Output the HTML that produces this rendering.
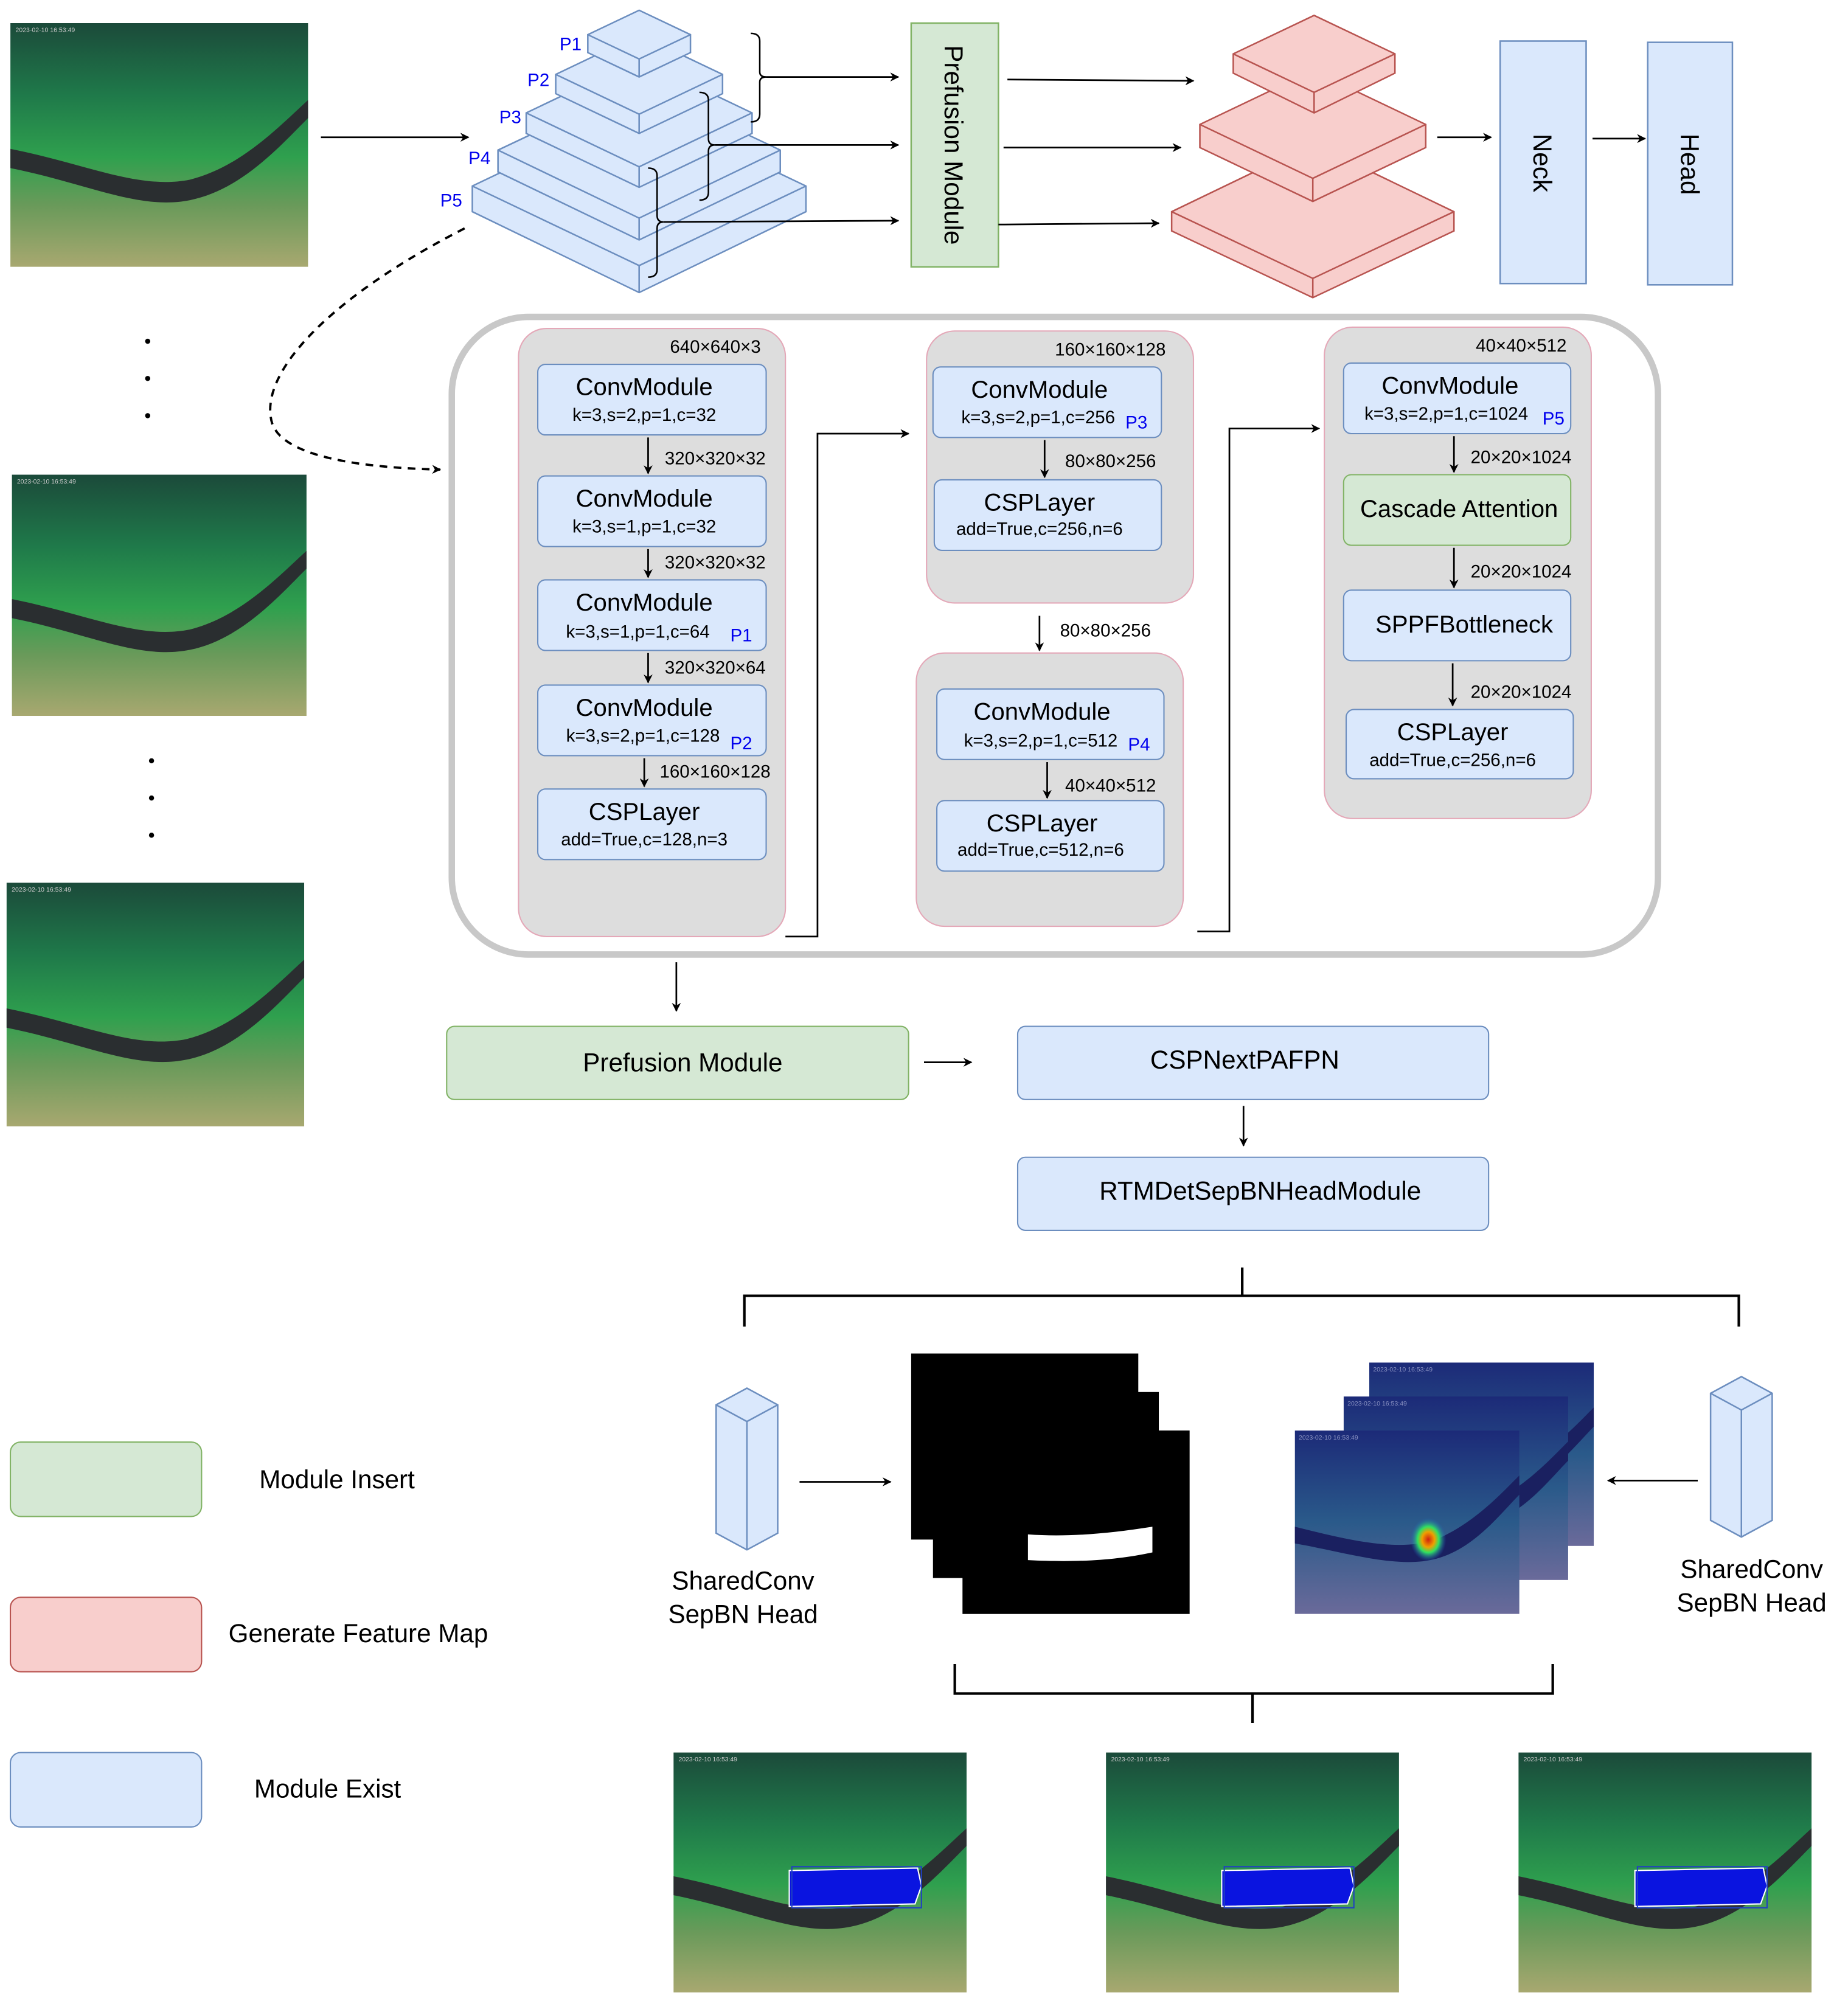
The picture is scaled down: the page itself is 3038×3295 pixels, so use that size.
<!DOCTYPE html>
<html><head><meta charset="utf-8"><style>
html,body{margin:0;padding:0;background:#fff}
svg{display:block}
text{font-family:"Liberation Sans",sans-serif}
</style></head><body>
<svg width="3038" height="3295" viewBox="0 0 1440 1562" xmlns="http://www.w3.org/2000/svg">
<defs>
<marker id="ah" viewBox="0 0 10 10" refX="9" refY="5" markerWidth="7" markerHeight="7" orient="auto" markerUnits="userSpaceOnUse"><path d="M0,0 L10,5 L0,10 L3,5z" fill="#000"/></marker>
<linearGradient id="pg" x1="0" y1="0" x2="0" y2="1">
<stop offset="0" stop-color="#1b4a3a"/><stop offset="0.3" stop-color="#1f7a4a"/><stop offset="0.55" stop-color="#2fa04e"/><stop offset="0.75" stop-color="#6a9a5a"/><stop offset="1" stop-color="#a8a870"/></linearGradient>
<linearGradient id="hg" x1="0" y1="0" x2="0" y2="1">
<stop offset="0" stop-color="#1c2a78"/><stop offset="0.5" stop-color="#2a5a8a"/><stop offset="1" stop-color="#6a6a9a"/></linearGradient>
<radialGradient id="blob"><stop offset="0" stop-color="#d02010"/><stop offset="0.35" stop-color="#f0a000"/><stop offset="0.6" stop-color="#30e060"/><stop offset="1" stop-color="#2060c0" stop-opacity="0"/></radialGradient>
<symbol id="photo" viewBox="0 0 232 190">
<rect width="232" height="190" fill="url(#pg)"/>
<path d="M0,98 C60,110 100,130 140,122 C180,112 210,80 232,60 L232,74 C210,96 180,130 140,138 C100,146 60,125 0,113z" fill="#2a2e30"/>
<text x="4" y="7" font-size="5" fill="#ccc">2023-02-10 16:53:49</text>
</symbol>
<symbol id="heat" viewBox="0 0 175 143">
<rect width="175" height="143" fill="url(#hg)"/>
<path d="M0,75 C40,85 80,95 110,85 C140,72 160,50 175,35 L175,50 C160,65 140,92 110,100 C80,108 40,95 0,88z" fill="#1a2060"/>
<text x="3" y="7" font-size="5" fill="#8890c0">2023-02-10 16:53:49</text>
</symbol>
</defs>
<rect width="1440" height="1562" fill="#fff"/>

<!-- left photos -->
<use href="#photo" x="8" y="18" width="232" height="190"/>
<use href="#photo" x="8" y="370" width="232" height="188"/>
<use href="#photo" x="5" y="688" width="232" height="190"/>
<g fill="#000"><circle cx="115" cy="266" r="2"/><circle cx="115" cy="295" r="2"/><circle cx="115" cy="324" r="2"/><circle cx="118" cy="593" r="2"/><circle cx="118" cy="622" r="2"/><circle cx="118" cy="651" r="2"/></g>
<line x1="250" y1="107" x2="365" y2="107" stroke="#000" stroke-width="1.3" marker-end="url(#ah)"/>

<!-- pyramid -->
<g fill="#dae8fc" stroke="#6c8ebf" stroke-width="1.2">
<path d="M368,145 L498,83 L628,145 L628,165 L498,228 L368,165z"/><path d="M368,145 L498,207 L628,145 M498,207 L498,228" fill="none"/>
<path d="M388,117 L498,65 L608,117 L608,134 L498,187 L388,134z"/><path d="M388,117 L498,170 L608,117 M498,170 L498,187" fill="none"/>
<path d="M410,88 L498,46 L586,88 L586,104 L498,146 L410,104z"/><path d="M410,88 L498,130 L586,88 M498,130 L498,146" fill="none"/>
<path d="M433,58 L498,27 L563,58 L563,73 L498,104 L433,73z"/><path d="M433,58 L498,89 L563,58 M498,89 L498,104" fill="none"/>
<path d="M458,27 L498,8 L538,27 L538,41 L498,60 L458,41z"/><path d="M458,27 L498,46 L538,27 M498,46 L498,60" fill="none"/>
</g>
<g fill="#0000ee" font-size="14"><text x="436" y="39">P1</text><text x="411" y="67">P2</text><text x="389" y="96">P3</text><text x="365" y="128">P4</text><text x="343" y="161">P5</text></g>
<g fill="none" stroke="#000" stroke-width="1.2">
<path d="M585,26 Q592,26 592,32 L592,56 Q592,60 597,60 Q592,60 592,64 L592,89 Q592,95 585,95"/>
<path d="M545,72 Q552,72 552,78 L552,108 Q552,113 557,113 Q552,113 552,118 L552,150 Q552,156 545,156"/>
<path d="M505,131 Q512,131 512,137 L512,168 Q512,173 517,173 Q512,173 512,178 L512,210 Q512,216 505,216"/>
</g>
<g stroke="#000" stroke-width="1.3" marker-end="url(#ah)">
<line x1="597" y1="60" x2="700" y2="60"/><line x1="557" y1="113" x2="700" y2="113"/><line x1="517" y1="173" x2="700" y2="172"/>
</g>
<rect x="710" y="18" width="68" height="190" fill="#d5e8d4" stroke="#82b366" stroke-width="1.2"/>
<text transform="translate(736,113) rotate(90)" text-anchor="middle" font-size="20" fill="#000">Prefusion Module</text>
<g stroke="#000" stroke-width="1.3" marker-end="url(#ah)">
<line x1="785" y1="62" x2="930" y2="63"/><line x1="782" y1="115" x2="920" y2="115"/><line x1="778" y1="175" x2="903" y2="174"/>
</g>
<!-- red slabs -->
<g fill="#f8cecc" stroke="#b85450" stroke-width="1.2">
<path d="M913,165 L1023,112 L1133,165 L1133,180 L1023,232 L913,180z"/><path d="M913,165 L1023,217 L1133,165 M1023,217 L1023,232" fill="none"/>
<path d="M935,97 L1023,55 L1111,97 L1111,115 L1023,157 L935,115z"/><path d="M935,97 L1023,139 L1111,97 M1023,139 L1023,157" fill="none"/>
<path d="M961,42 L1024,12 L1087,42 L1087,57 L1024,88 L961,57z"/><path d="M961,42 L1024,72 L1087,42 M1024,72 L1024,88" fill="none"/>
</g>
<line x1="1120" y1="107" x2="1162" y2="107" stroke="#000" stroke-width="1.3" marker-end="url(#ah)"/>
<rect x="1169" y="32" width="67" height="189" fill="#dae8fc" stroke="#6c8ebf" stroke-width="1.2"/>
<text transform="translate(1195,127) rotate(90)" text-anchor="middle" font-size="20">Neck</text>
<line x1="1241" y1="108" x2="1282" y2="108" stroke="#000" stroke-width="1.3" marker-end="url(#ah)"/>
<rect x="1284" y="33" width="66" height="189" fill="#dae8fc" stroke="#6c8ebf" stroke-width="1.2"/>
<text transform="translate(1310,128) rotate(90)" text-anchor="middle" font-size="20">Head</text>

<path d="M362,178 C260,230 200,290 212,330 C222,360 300,365 343,366" fill="none" stroke="#000" stroke-width="1.8" stroke-dasharray="6,5" marker-end="url(#ah)"/>

<!-- big container -->
<rect x="352" y="247" width="940" height="497" rx="60" fill="#fff" stroke="#c8c8c8" stroke-width="5"/>
<g fill="#dddddd" stroke="#e4a8b8" stroke-width="1">
<rect x="404" y="256" width="208" height="474" rx="22"/>
<rect x="722" y="258" width="208" height="212" rx="22"/>
<rect x="714" y="509" width="208" height="213" rx="22"/>
<rect x="1032" y="255" width="208" height="383" rx="22"/>
</g>
<g fill="#dae8fc" stroke="#6c8ebf" stroke-width="1">
<rect x="419" y="284" width="178" height="55" rx="6"/><rect x="419" y="371" width="178" height="55" rx="6"/>
<rect x="419" y="452" width="178" height="55" rx="6"/><rect x="419" y="534" width="178" height="55" rx="6"/>
<rect x="419" y="615" width="178" height="55" rx="6"/>
<rect x="727" y="286" width="178" height="55" rx="6"/><rect x="728" y="374" width="177" height="55" rx="6"/>
<rect x="730" y="537" width="177" height="55" rx="6"/><rect x="730" y="624" width="177" height="55" rx="6"/>
<rect x="1047" y="283" width="177" height="55" rx="6"/><rect x="1047" y="460" width="177" height="55" rx="6"/>
<rect x="1049" y="553" width="177" height="54" rx="6"/>
</g>
<rect x="1047" y="370" width="177" height="55" rx="6" fill="#d5e8d4" stroke="#82b366"/>
<g font-size="19" text-anchor="middle">
<text x="502" y="308">ConvModule</text><text x="502" y="395">ConvModule</text><text x="502" y="476">ConvModule</text><text x="502" y="558">ConvModule</text><text x="502" y="639">CSPLayer</text>
<text x="810" y="310">ConvModule</text><text x="810" y="398">CSPLayer</text>
<text x="812" y="561">ConvModule</text><text x="812" y="648">CSPLayer</text>
<text x="1130" y="307">ConvModule</text><text x="1137" y="403">Cascade Attention</text><text x="1141" y="493">SPPFBottleneck</text><text x="1132" y="577">CSPLayer</text>
</g>
<g font-size="14" text-anchor="middle">
<text x="502" y="328">k=3,s=2,p=1,c=32</text><text x="502" y="415">k=3,s=1,p=1,c=32</text><text x="497" y="497">k=3,s=1,p=1,c=64</text><text x="501" y="578">k=3,s=2,p=1,c=128</text><text x="502" y="659">add=True,c=128,n=3</text>
<text x="809" y="330">k=3,s=2,p=1,c=256</text><text x="810" y="417">add=True,c=256,n=6</text>
<text x="811" y="582">k=3,s=2,p=1,c=512</text><text x="811" y="667">add=True,c=512,n=6</text>
<text x="1127" y="327">k=3,s=2,p=1,c=1024</text><text x="1132" y="597">add=True,c=256,n=6</text>
</g>
<g font-size="14" fill="#0000ee"><text x="569" y="500">P1</text><text x="569" y="584">P2</text><text x="877" y="334">P3</text><text x="879" y="585">P4</text><text x="1202" y="331">P5</text></g>
<g font-size="14">
<text x="522" y="275">640×640×3</text><text x="518" y="362">320×320×32</text><text x="518" y="443">320×320×32</text><text x="518" y="525">320×320×64</text><text x="514" y="606">160×160×128</text>
<text x="822" y="277">160×160×128</text><text x="830" y="364">80×80×256</text><text x="826" y="496">80×80×256</text><text x="830" y="617">40×40×512</text>
<text x="1150" y="274">40×40×512</text><text x="1146" y="361">20×20×1024</text><text x="1146" y="450">20×20×1024</text><text x="1146" y="544">20×20×1024</text>
</g>
<g stroke="#000" stroke-width="1.3" marker-end="url(#ah)" fill="none">
<line x1="505" y1="341" x2="505" y2="369"/><line x1="505" y1="428" x2="505" y2="450"/><line x1="505" y1="509" x2="505" y2="532"/><line x1="502" y1="591" x2="502" y2="613"/>
<line x1="814" y1="343" x2="814" y2="372"/><line x1="810" y1="480" x2="810" y2="507"/><line x1="816" y1="594" x2="816" y2="622"/>
<line x1="1133" y1="340" x2="1133" y2="368"/><line x1="1133" y1="427" x2="1133" y2="458"/><line x1="1132" y1="517" x2="1132" y2="550"/>
<path d="M612,730 L637,730 L637,338 L708,338"/><path d="M933,726 L958,726 L958,334 L1028,334"/>
<line x1="527" y1="750" x2="527" y2="788"/><line x1="720" y1="828" x2="757" y2="828"/><line x1="969" y1="862" x2="969" y2="893"/>
<line x1="623" y1="1155" x2="694" y2="1155"/><line x1="1323" y1="1154" x2="1253" y2="1154"/>
</g>
<rect x="348" y="800" width="360" height="57" rx="6" fill="#d5e8d4" stroke="#82b366"/>
<text x="532" y="835" font-size="20" text-anchor="middle">Prefusion Module</text>
<rect x="793" y="800" width="367" height="57" rx="6" fill="#dae8fc" stroke="#6c8ebf"/>
<text x="970" y="833" font-size="20" text-anchor="middle">CSPNextPAFPN</text>
<rect x="793" y="902" width="367" height="57" rx="6" fill="#dae8fc" stroke="#6c8ebf"/>
<text x="982" y="935" font-size="20" text-anchor="middle">RTMDetSepBNHeadModule</text>
<path d="M968,988 L968,1010 M580,1034 L580,1010 L1355,1010 L1355,1034" fill="none" stroke="#000" stroke-width="2"/>

<!-- prisms -->
<g fill="#dae8fc" stroke="#6c8ebf" stroke-width="1.2">
<path d="M558,1095 L582,1082 L606,1095 L606,1195 L582,1208 L558,1195z"/><path d="M558,1095 L582,1108 L606,1095 M582,1108 L582,1208" fill="none"/>
<path d="M1333,1086 L1357,1073 L1381,1086 L1381,1185 L1357,1198 L1333,1185z"/><path d="M1333,1086 L1357,1099 L1381,1086 M1357,1099 L1357,1198" fill="none"/>
</g>
<g font-size="20" text-anchor="middle"><text x="579" y="1239">SharedConv</text><text x="579" y="1265">SepBN Head</text><text x="1365" y="1230">SharedConv</text><text x="1365" y="1256">SepBN Head</text></g>
<!-- masks -->
<g fill="#000"><rect x="710" y="1055" width="177" height="145"/><rect x="727" y="1085" width="176" height="145"/><rect x="750" y="1115" width="177" height="143"/></g>
<path d="M801,1196 C830,1198 860,1196 898,1190 L898,1210 C870,1216 840,1218 801,1216z" fill="#fff"/>
<!-- heatmaps -->
<use href="#heat" x="1067" y="1062" width="175" height="143"/>
<use href="#heat" x="1047" y="1088" width="175" height="144"/>
<use href="#heat" x="1009" y="1115" width="175" height="143"/>
<ellipse cx="1113" cy="1200" rx="14" ry="17" fill="url(#blob)"/>
<path d="M744,1297 L744,1320 L1210,1320 L1210,1297 M976,1320 L976,1343" fill="none" stroke="#000" stroke-width="2"/>
<!-- bottom photos -->
<g>
<use href="#photo" x="523" y="1366" width="232" height="187"/>
<path d="M615,1458 L715,1456 L718,1470 L713,1484 L615,1486z" fill="#0a14e0" stroke="#fff" stroke-width="1"/><rect x="617" y="1455" width="101" height="32" fill="none" stroke="#2040c0"/>
<use href="#photo" x="860" y="1366" width="232" height="187"/>
<path d="M952,1458 L1052,1456 L1055,1470 L1050,1484 L952,1486z" fill="#0a14e0" stroke="#fff" stroke-width="1"/><rect x="954" y="1455" width="101" height="32" fill="none" stroke="#2040c0"/>
<use href="#photo" x="1182" y="1366" width="231" height="187"/>
<path d="M1274,1458 L1374,1456 L1377,1470 L1372,1484 L1274,1486z" fill="#0a14e0" stroke="#fff" stroke-width="1"/><rect x="1276" y="1455" width="101" height="32" fill="none" stroke="#2040c0"/>
</g>
<!-- legend -->
<rect x="8" y="1124" width="149" height="58" rx="8" fill="#d5e8d4" stroke="#82b366"/>
<rect x="8" y="1245" width="149" height="58" rx="8" fill="#f8cecc" stroke="#b85450"/>
<rect x="8" y="1366" width="149" height="58" rx="8" fill="#dae8fc" stroke="#6c8ebf"/>
<g font-size="20"><text x="202" y="1160">Module Insert</text><text x="178" y="1280">Generate Feature Map</text><text x="198" y="1401">Module Exist</text></g>
</svg>
</body></html>
